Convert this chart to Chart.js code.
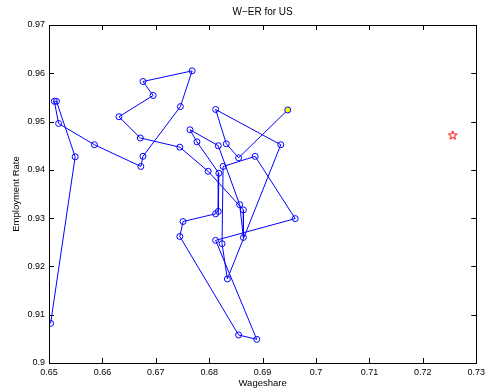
<!DOCTYPE html>
<html>
<head>
<meta charset="utf-8">
<script src="https://cdn.jsdelivr.net/npm/chart.js@4/dist/chart.umd.min.js"></script>
<style>
  html, body { margin: 0; padding: 0; background: #fff; }
  #wrap { width: 489px; height: 389px; }
</style>
</head>
<body>
<div id="wrap"><canvas id="chart" width="489" height="389"></canvas></div>
<script>
// --- Data: path through (wageshare, employment rate), in order ---
const wageshare = [
  0.6503, 0.6549, 0.6514, 0.6510, 0.6518, 0.6585, 0.6672, 0.6676, 0.6746, 0.6768,
  0.6676, 0.6695, 0.6631, 0.6671, 0.6745, 0.6798, 0.6864, 0.6864, 0.6857, 0.6817,
  0.6764, 0.6777, 0.6818, 0.6817, 0.6812, 0.6751, 0.6745, 0.6855, 0.6889, 0.6812,
  0.6961, 0.6886, 0.6826, 0.6824, 0.6834, 0.6934, 0.6812, 0.6832, 0.6855, 0.6947
];
const employment = [
  0.9082, 0.9427, 0.9542, 0.9542, 0.9496, 0.9452, 0.9407, 0.9428, 0.9531, 0.9605,
  0.9583, 0.9554, 0.9510, 0.9466, 0.9447, 0.9397, 0.9317, 0.9260, 0.9328, 0.9450,
  0.9483, 0.9458, 0.9393, 0.9314, 0.9309, 0.9293, 0.9262, 0.9058, 0.9049, 0.9254,
  0.9299, 0.9428, 0.9407, 0.9247, 0.9174, 0.9452, 0.9525, 0.9454, 0.9425, 0.9524
];
// separate marker (red star)
const starX = [0.7256];
const starY = [0.9472];

const xTicks = [0.65, 0.66, 0.67, 0.68, 0.69, 0.70, 0.71, 0.72, 0.73];
const yTicks = [0.90, 0.91, 0.92, 0.93, 0.94, 0.95, 0.96, 0.97];

const FONT = "'Liberation Sans', Arial, Helvetica, sans-serif";
const fmt = v => String(Number(v.toFixed(2)));

// --- Star glyph for the red point ---
function makeStar() {
  const c = document.createElement('canvas');
  c.width = 12; c.height = 12;
  const g = c.getContext('2d');
  g.strokeStyle = '#ff0000';
  g.lineWidth = 1;
  g.beginPath();
  for (let i = 0; i < 10; i++) {
    const r = i % 2 === 0 ? 4.6 : 1.9;
    const a = -Math.PI / 2 + i * Math.PI / 5;
    const px = 6 + r * Math.cos(a), py = 6.4 + r * Math.sin(a);
    if (i === 0) g.moveTo(px, py); else g.lineTo(px, py);
  }
  g.closePath();
  g.stroke();
  return c;
}

// --- Frame with inward ticks, plus the title (MATLAB look) ---
const framePlugin = {
  id: 'frame',
  afterDraw(chart) {
    const { ctx, chartArea: a, scales } = chart;
    ctx.save();
    ctx.strokeStyle = '#000';
    ctx.lineWidth = 1;
    ctx.beginPath();
    xTicks.forEach(v => {
      const px = Math.round(scales.x.getPixelForValue(v)) + 0.5;
      ctx.moveTo(px, a.bottom); ctx.lineTo(px, a.bottom - 5);
      ctx.moveTo(px, a.top); ctx.lineTo(px, a.top + 5);
    });
    yTicks.forEach(v => {
      const py = Math.round(scales.y.getPixelForValue(v)) + 0.5;
      ctx.moveTo(a.left, py); ctx.lineTo(a.left + 5, py);
      ctx.moveTo(a.right, py); ctx.lineTo(a.right - 5, py);
    });
    ctx.stroke();
    ctx.strokeRect(Math.round(a.left) + 0.5, Math.round(a.top) + 0.5,
                   Math.round(a.right - a.left), Math.round(a.bottom - a.top));
    ctx.fillStyle = '#000';
    ctx.font = '10px ' + FONT;
    ctx.textAlign = 'center';
    ctx.textBaseline = 'middle';
    ctx.fillText('W\u2212ER for US', (a.left + a.right) / 2, 12.5);
    ctx.restore();
  }
};

const pathPoints = wageshare.map((x, i) => ({ x, y: employment[i] }));
const starPoints = starX.map((x, i) => ({ x, y: starY[i] }));
const last = pathPoints.length - 1;

new Chart(document.getElementById('chart'), {
  type: 'scatter',
  data: {
    datasets: [
      {
        data: pathPoints,
        showLine: true,
        borderColor: '#0000ff',
        borderWidth: 1,
        pointRadius: 3,
        pointBorderWidth: 1,
        pointBorderColor: '#0000ff',
        pointBackgroundColor: c => c.dataIndex === last ? '#ffff00' : 'rgba(0,0,0,0)',
        tension: 0
      },
      {
        data: starPoints,
        showLine: false,
        pointStyle: makeStar(),
        pointRadius: 5
      }
    ]
  },
  options: {
    responsive: false,
    animation: false,
    layout: { padding: { left: 0, right: 11, top: 25, bottom: 0 } },
    plugins: { legend: { display: false }, tooltip: { enabled: false } },
    scales: {
      x: {
        type: 'linear',
        min: 0.65, max: 0.73,
        afterBuildTicks: s => { s.ticks = xTicks.map(v => ({ value: v })); },
        afterFit: s => { s.height = 26; },
        grid: { display: false, drawTicks: false },
        border: { display: false },
        ticks: {
          color: '#000', font: { family: FONT, size: 9 }, padding: 4,
          maxRotation: 0, autoSkip: false, callback: v => fmt(v)
        },
        title: {
          display: true, text: 'Wageshare', color: '#000',
          font: { family: FONT, size: 9.5 }, padding: { top: 0, bottom: 0 }
        }
      },
      y: {
        type: 'linear',
        min: 0.90, max: 0.97,
        afterBuildTicks: s => { s.ticks = yTicks.map(v => ({ value: v })); },
        afterFit: s => { s.width = 49; },
        grid: { display: false, drawTicks: false },
        border: { display: false },
        ticks: {
          color: '#000', font: { family: FONT, size: 9 }, padding: 4,
          autoSkip: false, callback: v => fmt(v)
        },
        title: {
          display: true, text: 'Employment Rate', color: '#000',
          font: { family: FONT, size: 9.5 }, padding: { top: 11, bottom: 0 }
        }
      }
    }
  },
  plugins: [framePlugin]
});
</script>
</body>
</html>
